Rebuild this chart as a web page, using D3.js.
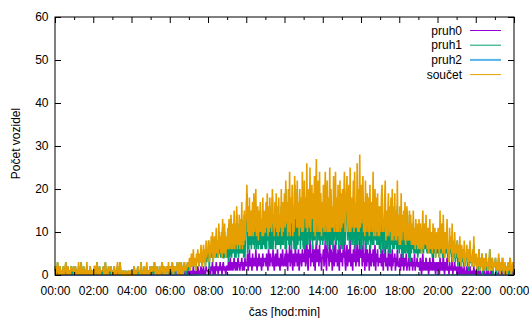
<!DOCTYPE html>
<html>
<head>
<meta charset="utf-8">
<script src="https://cdn.jsdelivr.net/npm/d3@7"></script>
<style>
  body { margin: 0; background: #fff; }
  svg { font-family: "Liberation Sans", Arial, sans-serif; font-size: 12px; }
</style>
</head>
<body>
<div id="chart"></div>
<script>
// vehicle counts per lane, one sample every 2 minutes, one row = one hour
const stepMinutes = 2

const pruh0 = [
  0,0,0,0,0,1,0,0,0,0,0,0,0,0,0,0,1,0,0,0,0,0,0,0,0,0,0,1,0,0,
  0,0,0,0,0,0,0,1,0,0,0,0,0,0,0,0,0,0,0,0,1,0,0,0,0,0,0,0,0,0,
  0,0,0,1,0,0,0,0,0,0,0,0,0,0,1,0,0,0,0,0,0,0,0,0,0,0,1,0,0,0,
  0,0,0,0,0,0,0,0,1,0,0,0,0,0,0,0,0,0,0,0,0,0,0,0,0,0,0,0,0,0,
  0,0,0,0,0,0,0,0,0,0,0,1,0,0,0,0,0,0,0,0,0,0,0,0,1,0,0,0,0,0,
  0,0,0,0,1,0,0,0,0,0,0,0,0,0,0,0,0,1,0,0,0,0,0,0,0,0,0,0,1,0,
  0,0,1,0,0,0,0,0,0,1,0,0,0,0,0,1,0,0,0,0,0,0,1,0,0,0,1,0,0,1,
  0,1,0,0,1,0,0,2,0,1,0,0,1,0,2,1,0,1,0,2,1,0,1,2,0,1,0,2,1,1,
  1,0,2,1,0,2,1,3,0,1,2,0,1,3,1,2,0,2,1,3,1,2,0,2,3,1,2,1,0,2,
  2,1,3,1,2,4,1,2,3,1,2,4,2,1,3,2,1,4,3,2,1,3,2,4,1,2,3,1,4,2,
  3,2,5,1,3,6,2,4,3,1,5,2,3,4,2,6,3,1,4,2,5,3,2,4,1,3,5,2,4,3,
  4,2,5,3,1,6,4,2,5,3,4,2,6,3,1,4,5,2,3,6,2,4,3,1,5,4,2,6,3,2,
  3,5,2,6,4,1,5,3,7,2,4,6,3,1,5,4,2,7,3,5,2,4,6,1,3,5,4,2,6,3,
  5,3,7,2,4,8,3,1,6,4,9,2,5,3,7,4,2,6,1,5,8,3,4,6,2,7,3,5,1,4,
  4,6,2,5,8,3,1,7,4,5,2,9,3,6,4,1,5,7,2,4,8,3,5,2,6,4,1,7,3,5,
  5,2,6,4,8,3,1,5,7,2,4,6,3,9,2,5,4,1,6,3,7,5,2,4,8,3,6,2,9,5,
  4,6,2,7,3,5,1,8,4,2,6,3,5,1,7,4,2,5,3,6,2,4,7,1,5,3,6,2,4,3,
  3,5,2,6,4,1,5,3,7,2,4,3,1,6,4,2,5,3,1,6,2,4,3,5,1,4,2,6,3,2,
  2,4,1,5,3,2,6,1,3,4,2,5,1,3,2,4,1,5,3,2,4,1,3,2,5,1,3,2,4,2,
  2,3,1,4,2,0,3,5,1,2,3,1,4,2,1,3,0,2,4,1,3,2,1,5,2,1,3,0,2,3,
  1,3,2,0,4,1,2,3,1,5,2,0,3,1,2,4,1,2,0,3,1,2,1,4,0,2,1,3,1,2,
  1,0,2,1,0,3,1,0,2,1,0,1,2,0,1,0,2,1,0,1,0,2,0,1,0,1,0,2,0,1,
  0,1,0,0,1,0,0,1,0,0,0,1,0,1,0,0,0,1,0,0,1,0,0,0,1,0,0,1,0,0,
  0,0,1,0,0,0,1,0,0,0,0,1,0,0,0,0,1,0,0,0,0,0,1,0,0,0,0,0,1,0
]

const pruh1 = [
  1,2,0,1,3,1,0,1,2,0,1,1,0,2,1,0,1,3,1,0,2,1,0,1,0,2,1,0,1,2,
  0,1,2,1,0,1,0,2,1,0,1,3,1,0,1,2,0,1,0,1,2,0,1,1,0,2,1,0,1,0,
  1,0,2,1,0,1,3,1,0,1,2,0,1,1,0,1,2,0,1,3,1,0,1,0,2,1,0,1,2,0,
  1,0,1,2,0,1,0,1,2,1,0,1,3,1,0,1,0,0,1,0,0,1,0,0,0,1,0,0,1,0,
  0,1,0,0,2,1,0,1,0,1,2,0,1,0,1,3,1,0,1,0,2,1,0,1,2,0,1,1,0,2,
  1,0,2,1,0,1,3,1,0,1,2,0,1,0,2,1,0,1,3,1,0,2,1,0,1,2,1,0,2,1,
  1,2,0,1,3,1,0,2,1,0,2,1,3,0,1,2,1,0,3,1,2,0,1,3,1,2,0,2,3,1,
  2,3,1,3,4,2,3,4,2,3,3,1,4,3,4,3,2,4,3,5,3,2,4,5,3,5,2,6,3,5,
  4,8,1,6,4,7,4,7,3,5,7,4,6,8,4,6,4,10,5,6,4,8,4,11,4,4,10,5,4,7,
  4,10,3,12,4,6,13,4,9,5,7,11,4,11,4,14,5,7,4,12,5,10,5,13,5,10,4,14,4,11,
  11,19,5,15,6,12,7,11,6,12,12,7,16,6,12,14,6,11,12,6,10,7,15,6,12,6,13,7,11,7,
  6,15,6,16,8,10,6,16,6,12,6,18,6,11,8,13,6,17,7,10,7,14,7,13,6,16,7,11,7,13,
  16,6,20,6,13,8,15,7,17,7,14,6,18,8,11,6,21,6,16,6,20,7,11,8,17,6,14,8,18,7,
  6,19,6,16,7,18,7,16,14,7,16,8,11,18,6,15,8,17,8,13,19,7,12,16,8,17,7,14,8,13,
  7,15,8,12,16,7,14,15,6,13,8,16,7,14,7,15,6,16,8,13,16,7,13,8,15,6,14,15,7,14,
  6,18,6,14,16,7,14,14,16,8,13,15,7,16,8,13,7,13,16,7,17,6,14,7,18,7,14,8,19,6,
  17,6,16,16,7,12,8,14,6,13,13,7,13,8,14,6,12,12,7,18,7,12,13,8,13,7,13,7,12,6,
  13,5,16,15,6,12,5,14,15,6,11,6,13,13,5,14,5,15,7,14,6,12,6,14,7,11,6,16,6,12,
  5,12,6,14,5,12,4,14,5,13,5,8,15,5,10,4,14,3,11,5,8,6,12,5,6,5,10,5,8,4,
  6,10,5,8,7,5,8,10,5,8,9,6,10,6,5,8,5,7,9,5,7,6,4,7,7,5,8,4,6,7,
  5,8,5,4,11,5,7,9,4,9,6,4,7,5,6,9,4,5,3,8,5,7,4,8,3,6,4,7,3,5,
  4,8,2,6,3,6,4,2,5,3,6,2,6,2,4,4,5,2,6,1,5,6,3,3,2,5,3,7,2,4,
  3,4,1,4,1,6,1,2,4,2,5,0,3,3,2,1,5,1,3,1,3,2,6,1,2,2,4,0,3,2,
  2,4,0,3,1,2,4,1,0,3,1,1,4,1,0,2,2,1,2,0,1,3,0,2,4,1,0,2,2,1
]

// third lane stays empty all day, one value per hour
const pruh2 = [0,0,0,0,0,0,0,0,0,0,0,0,0,0,0,0,0,0,0,0,0,0,0,0,0]

const seriesNames = ["pruh0", "pruh1", "pruh2", "součet"]
const seriesColors = ["#9400d3", "#009e73", "#56b4e9", "#e69f00"]
const xTickLabels = ["00:00", "02:00", "04:00", "06:00", "08:00", "10:00", "12:00",
  "14:00", "16:00", "18:00", "20:00", "22:00", "00:00"]
const yTicks = [0, 10, 20, 30, 40, 50, 60]

// series as [minute, count] pairs
const lane0 = pruh0.map((v, i) => [i * stepMinutes, v])
const lane1 = pruh1.map((v, i) => [i * stepMinutes, v])
const lane2 = pruh2.map((v, i) => [i * 60, v])
const total = pruh0.map((v, i) => {
  const minute = i * stepMinutes
  return [minute, v + pruh1[i] + pruh2[Math.floor(minute / 60)]]
})
const allSeries = [lane0, lane1, lane2, total]

const width = 529
const height = 318
const plotLeft = 55, plotRight = 514, plotTop = 17, plotBottom = 275

const xScale = d3.scaleLinear().domain([0, 24 * 60]).range([plotLeft, plotRight])
const yScale = d3.scaleLinear().domain([0, 60]).range([plotBottom, plotTop])

const svg = d3.select("#chart")
  .append("svg")
  .attr("width", width)
  .attr("height", height)

const line = d3.line()
  .x(d => xScale(d[0]))
  .y(d => yScale(d[1]))

svg.append("g")
  .attr("class", "lines")
  .selectAll("path")
  .data(allSeries)
  .join("path")
  .attr("d", d => line(d))
  .attr("fill", "none")
  .attr("stroke", (d, i) => seriesColors[i])
  .attr("stroke-width", 1.6)
  .attr("stroke-linejoin", "miter")

// axes, ticks pointing inward like gnuplot
const majorX = d3.range(0, 24 * 60 + 1, 120)
const minorX = d3.range(60, 24 * 60, 120)

svg.append("g")
  .attr("transform", `translate(0 ${plotBottom})`)
  .call(d3.axisBottom(xScale).tickValues(majorX)
    .tickFormat((d, i) => xTickLabels[i])
    .tickSizeInner(-6).tickSizeOuter(0).tickPadding(11.5))
svg.append("g")
  .attr("transform", `translate(0 ${plotBottom})`)
  .call(d3.axisBottom(xScale).tickValues(minorX).tickFormat("")
    .tickSizeInner(-3).tickSizeOuter(0))
svg.append("g")
  .attr("transform", `translate(0 ${plotTop})`)
  .call(d3.axisTop(xScale).tickValues(majorX).tickFormat("")
    .tickSizeInner(-6).tickSizeOuter(0))
svg.append("g")
  .attr("transform", `translate(0 ${plotTop})`)
  .call(d3.axisTop(xScale).tickValues(minorX).tickFormat("")
    .tickSizeInner(-3).tickSizeOuter(0))
svg.append("g")
  .attr("transform", `translate(${plotLeft} 0)`)
  .call(d3.axisLeft(yScale).tickValues(yTicks)
    .tickSizeInner(-6).tickSizeOuter(0).tickPadding(6.5))
svg.append("g")
  .attr("transform", `translate(${plotRight} 0)`)
  .call(d3.axisRight(yScale).tickValues(yTicks).tickFormat("")
    .tickSizeInner(-6).tickSizeOuter(0))

svg.selectAll(".domain").remove()
svg.selectAll(".tick line").attr("stroke", "#000")
svg.selectAll(".tick text")
  .attr("fill", "#000")
  .style("font-family", "'Liberation Sans', Arial, sans-serif")
  .style("font-size", "12px")

svg.append("rect")
  .attr("x", plotLeft)
  .attr("y", plotTop)
  .attr("width", plotRight - plotLeft)
  .attr("height", plotBottom - plotTop)
  .attr("fill", "none")
  .attr("stroke", "#000")
  .attr("stroke-width", 1)

// axis titles
svg.append("text")
  .attr("x", (plotLeft + plotRight) / 2)
  .attr("y", 316)
  .attr("text-anchor", "middle")
  .text("čas [hod:min]")

svg.append("text")
  .attr("transform", "translate(19.5 143.5) rotate(-90)")
  .attr("text-anchor", "middle")
  .text("Počet vozidel")

// legend
const legend = svg.append("g")
  .selectAll("g")
  .data(seriesNames)
  .join("g")
  .attr("transform", (d, i) => `translate(0 ${30.5 + i * 14.7})`)

legend.append("text")
  .attr("x", 462)
  .attr("dy", "0.35em")
  .attr("text-anchor", "end")
  .text(d => d)

legend.append("line")
  .attr("x1", 470)
  .attr("x2", 501)
  .attr("stroke", (d, i) => seriesColors[i])
  .attr("stroke-width", (d, i) => i === 2 ? 2 : 1)
</script>
</body>
</html>
